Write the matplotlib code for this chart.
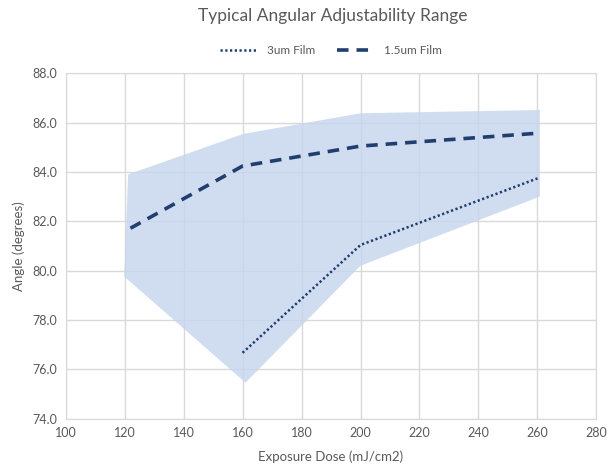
import matplotlib
matplotlib.use("Agg")
import matplotlib.pyplot as plt

plt.rcParams['font.family'] = ['Lato', 'DejaVu Sans']

# data
dose_15 = [122, 160, 200, 260]
angle_15 = [81.72, 84.24, 85.05, 85.57]

dose_3 = [160, 200, 260]
angle_3 = [76.67, 81.04, 83.74]

# shaded range: upper edge left->right then lower edge right->left
band_x = [121.2, 160.2, 200.1, 260.8, 260.8, 200, 161, 119.9]
band_y = [83.9, 85.54, 86.38, 86.51, 83.0, 80.2, 75.46, 79.76]

navy = '#203f6f'
grey = '#595959'
gridc = '#d9d9d9'

fig = plt.figure(figsize=(6.13, 4.65), dpi=100)
ax = fig.add_axes([0.107, 0.0996, 0.866, 0.7428])

ax.fill(band_x, band_y, color='#c5d4ec', alpha=0.8, lw=0, zorder=1)
ax.plot(dose_3, angle_3, color=navy, lw=1.8, linestyle=(0, (0.9, 1.0)),
        dash_capstyle='butt', label='3um Film', zorder=3)
ax.plot(dose_15, angle_15, color=navy, lw=2.6, linestyle=(0, (3.2, 2.2)),
        label='1.5um Film', zorder=3)

ax.set_xlim(100, 280)
ax.set_ylim(74, 88)
ax.set_xticks(range(100, 281, 20))
ax.set_yticks(range(74, 89, 2))
ax.set_yticklabels([f'{v:.1f}' for v in range(74, 89, 2)])
ax.grid(True, color=gridc, lw=1, zorder=0)
ax.set_axisbelow(True)
for s in ax.spines.values():
    s.set_color(gridc)
ax.tick_params(length=0, colors=grey, labelsize=9, pad=6)

ax.set_xlabel('Exposure Dose (mJ/cm2)', color=grey, fontsize=9.5, labelpad=8)
ax.set_ylabel('Angle (degrees)', color=grey, fontsize=9.5, labelpad=5)
fig.suptitle('Typical Angular Adjustability Range', color=grey, fontsize=12.5,
             x=0.543, y=0.982)
ax.legend(loc='lower center', bbox_to_anchor=(0.5, 1.02), ncol=2, frameon=False,
          fontsize=8.5, labelcolor=grey, handlelength=3.2, columnspacing=1.8)

fig.savefig('out.png', dpi=100)
